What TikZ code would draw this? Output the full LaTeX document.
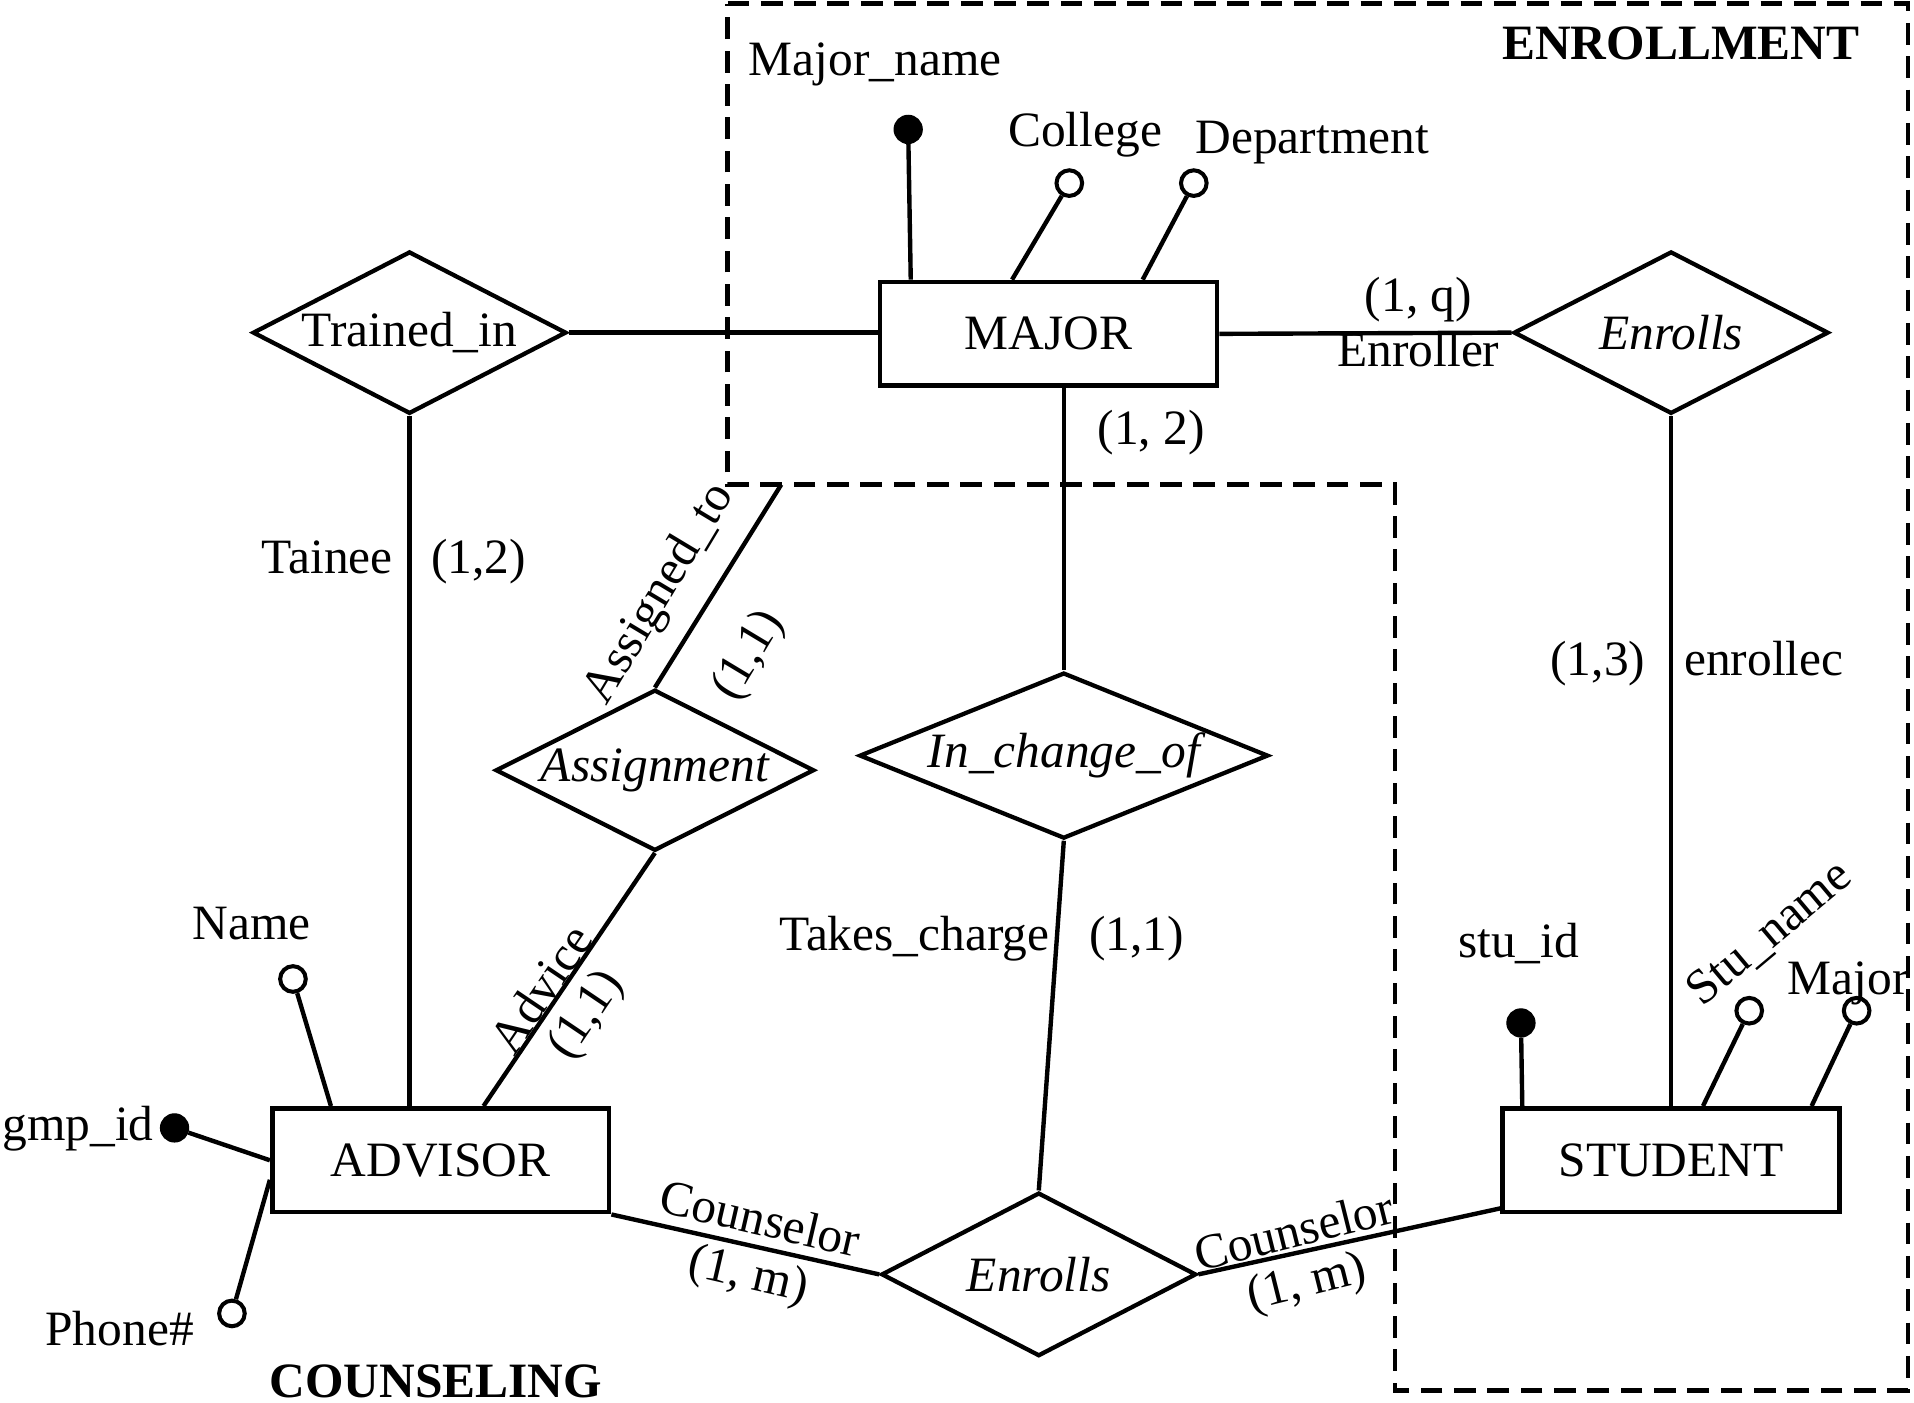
\documentclass[tikz,border=0pt]{standalone}
\usepackage{fontspec}
\setmainfont{Liberation Serif}
\usetikzlibrary{shapes.geometric,calc}
\begin{document}
\begin{tikzpicture}[x=1pt,y=-1pt,
  font=\fontsize{40.5pt}{48pt}\selectfont,
  ent/.style={draw,line width=3.8pt,minimum width=276pt,minimum height=85pt,inner sep=0pt},
  rel/.style={draw,diamond,line width=3.5pt,inner sep=0pt,aspect=2},
  conn/.style={line width=3.6pt},
  lbl/.style={inner sep=0pt},
  keyattr/.style={circle,fill=black,draw,line width=1pt,minimum size=23pt,inner sep=0pt},
  attr/.style={circle,draw,line width=3.3pt,fill=white,minimum size=21pt,inner sep=0pt},
  boundary/.style={line width=3.6pt,dash pattern=on 17.8pt off 9.5pt}
]
\useasboundingbox (0,0) rectangle (1568,1149);

% dashed ENROLLMENT boundary
\draw[boundary] (596,3) -- (1563,3) -- (1563,1139) -- (1143,1139) -- (1143,397) -- (596,397) -- cycle;

% entities
\node[ent] (major) at (859,273.5) {MAJOR};
\node[ent] (advisor) at (361,950.5) {ADVISOR};
\node[ent] (student) at (1369,950.5) {STUDENT};

% relationships
\node[rel,minimum width=257pt,minimum height=133pt] (trained) at (335.5,272.5) {\makebox[0pt]{Trained\_in}};
\node[rel,minimum width=258pt,minimum height=133pt] (enrollsT) at (1369,272.5) {\makebox[0pt]{\itshape Enrolls}};
\node[rel,minimum width=261pt,minimum height=132pt] (assign) at (536.5,631) {\makebox[0pt]{\itshape Assignment}};
\node[rel,minimum width=335pt,minimum height=136pt] (inchg) at (871.5,619) {\makebox[0pt]{\itshape In\_change\_of}};
\node[rel,minimum width=258pt,minimum height=134pt] (enrollsB) at (851,1044) {\makebox[0pt]{\itshape Enrolls}};

% connectors
\draw[conn] (trained.east) -- (trained.east -| major.west);
\draw[conn] (major.east) -- (enrollsT.west);
\draw[conn] (trained.south) -- (trained.south |- advisor.north);
\draw[conn] (enrollsT.south) -- (student.north);
\draw[conn] (inchg.north |- major.south) -- (inchg.north);
\draw[conn] (inchg.south) -- (enrollsB.north);
\coordinate (asgEnd) at (640,397);
\draw[conn] (assign.north) -- (asgEnd);
\draw[conn] (assign.south) -- ([xshift=175pt]advisor.north west);
\draw[conn] (advisor.south east) -- (enrollsB.west);
\draw[conn] (enrollsB.east) -- ([yshift=5pt]student.south west);

% attributes of MAJOR
\node[keyattr] (mname) at (744,106) {};
\node[attr] (college) at (876,150) {};
\node[attr] (dept) at (978,150) {};
\draw[conn] (mname) -- ([xshift=27pt]major.north west);
\draw[conn] (college) -- ([xshift=110pt]major.north west);
\draw[conn] (dept) -- ([xshift=217pt]major.north west);

% attributes of ADVISOR
\node[attr] (aname) at (240,802) {};
\node[keyattr] (gmp) at (143,924) {};
\node[attr] (phone) at (190,1076) {};
\draw[conn] (aname) -- ([xshift=50pt]advisor.north west);
\draw[conn] (gmp) -- (advisor.west);
\draw[conn] (phone) -- ([yshift=-16pt]advisor.west);

% attributes of STUDENT
\node[keyattr] (sid) at (1246,838) {};
\node[attr] (sname) at (1433,828) {};
\node[attr] (smajor) at (1521,828) {};
\draw[conn] (sid) -- ([xshift=18pt]student.north west);
\draw[conn] (sname) -- ([xshift=166pt]student.north west);
\draw[conn] (smajor) -- ([xshift=255pt]student.north west);

% attribute labels
\node[lbl,anchor=base] (lmname) at (717,62) {Major\_name};
\node[lbl,anchor=base] (lcollege) at (889,120) {College};
\node[lbl,anchor=base] (ldept) at (1075,126) {Department};
\node[lbl,anchor=base] (laname) at (206,770) {Name};
\node[lbl,anchor=base east] (lgmp) at (126,934) {gmp\_id};
\node[lbl,anchor=base] (lphone) at (98,1102) {Phone\#};
\node[lbl,anchor=base] (lsid) at (1244,784) {stu\_id};
\node[lbl,rotate=40] (lsname) at (1450,765) {Stu\_name};
\node[lbl,anchor=base] (lsmajor) at (1514,815) {Major};

% titles
\node[lbl,anchor=base,font=\fontsize{40.5pt}{48pt}\selectfont\bfseries] (tenroll) at (1377,49) {ENROLLMENT};
\node[lbl,anchor=base,font=\fontsize{40.5pt}{48pt}\selectfont\bfseries] (tcouns) at (357,1145) {COUNSELING};

% role and cardinality labels
\node[lbl,anchor=base] (c1q) at (1162,255) {(1, q)};
\node[lbl,anchor=base] (renroller) at (1162,300) {Enroller};
\node[lbl,anchor=base] (c12a) at (943,364) {(1, 2)};
\node[lbl,anchor=base] (rtainee) at (268,470) {Tainee};
\node[lbl,anchor=base] (c12b) at (392,470) {(1,2)};
\node[lbl,anchor=base] (c13) at (1309,553) {(1,3)};
\node[lbl,anchor=base] (renrollec) at (1445,553) {enrollec};
\node[lbl,anchor=base] (rtakes) at (749,779) {Takes\_charge};
\node[lbl,anchor=base] (c11c) at (931,779) {(1,1)};
\node[lbl,rotate=59] (rassigned) at (541,487) {Assigned\_to};
\node[lbl,rotate=59] (c11a) at (614,537) {(1,1)};
\node[lbl,rotate=56] (radvice) at (443,810) {Advice};
\node[lbl,rotate=56] (c11b) at (481,832) {(1,1)};
\node[lbl,rotate=-13] (rcounsL) at (623,998) {Counselor};
\node[lbl,rotate=-13] (c1mL) at (613,1046) {(1, m)};
\node[lbl,rotate=14] (rcounsR) at (1060,1008) {Counselor};
\node[lbl,rotate=14] (c1mR) at (1071,1052) {(1, m)};
\end{tikzpicture}
\end{document}
